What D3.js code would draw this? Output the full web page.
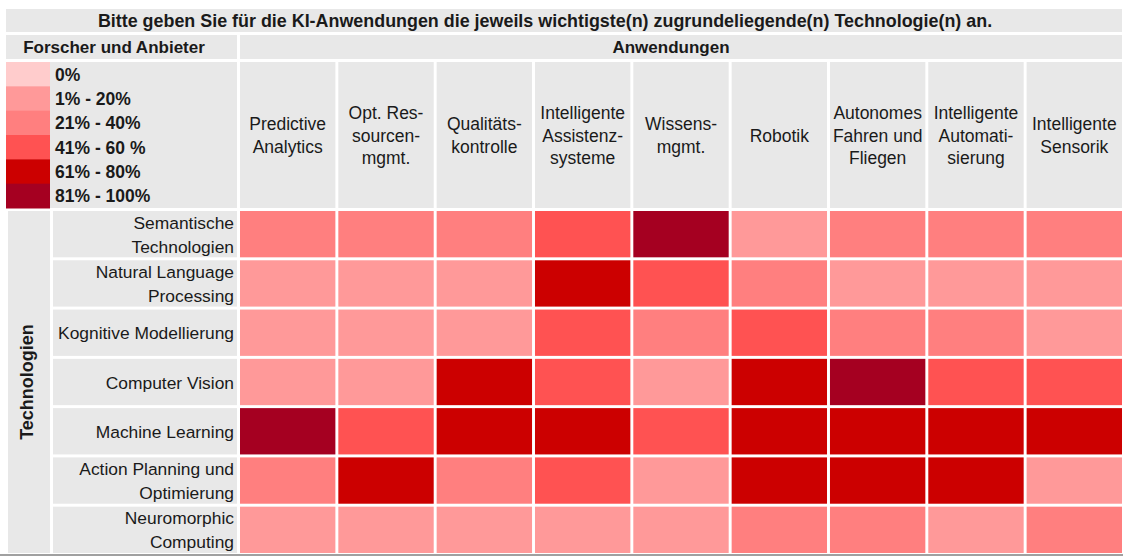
<!DOCTYPE html>
<html><head><meta charset="utf-8">
<script src="https://cdn.jsdelivr.net/npm/d3@7"></script>
<style>body{margin:0;background:#fff}svg{display:block;font-family:"Liberation Sans",Arial,sans-serif}</style>
</head><body><svg id="c" width="1123" height="556"></svg>
<script>
const title = "Bitte geben Sie für die KI-Anwendungen die jeweils wichtigste(n) zugrundeliegende(n) Technologie(n) an.";
const applications = [
  ["Predictive","Analytics"],
  ["Opt. Res-","sourcen-","mgmt."],
  ["Qualitäts-","kontrolle"],
  ["Intelligente","Assistenz-","systeme"],
  ["Wissens-","mgmt."],
  ["Robotik"],
  ["Autonomes","Fahren und","Fliegen"],
  ["Intelligente","Automati-","sierung"],
  ["Intelligente","Sensorik"]
];
const technologies = [
  ["Semantische","Technologien"],
  ["Natural Language","Processing"],
  ["Kognitive Modellierung"],
  ["Computer Vision"],
  ["Machine Learning"],
  ["Action Planning und","Optimierung"],
  ["Neuromorphic","Computing"]
];
const legendLabels = ["0%","1% - 20%","21% - 40%","41% - 60 %","61% - 80%","81% - 100%"];
const legendColors = ["#ffcccc","#ff9999","#ff7f7f","#ff5252","#cc0000","#a50021"];
// level index (0..5) per technology row, per application column
const levels = [
  [2,2,2,3,5,1,2,2,2],
  [1,1,1,4,3,2,1,1,1],
  [1,1,1,3,2,3,2,2,1],
  [1,1,4,3,1,4,5,3,3],
  [5,3,4,4,3,4,4,4,4],
  [2,4,2,3,1,4,4,4,1],
  [1,1,1,1,1,2,2,1,2]
];

const svg = d3.select("#c");
const gray = "#e8e8e8", ink = "#1a1a1a";
const color = d3.scaleOrdinal().domain(d3.range(6)).range(legendColors);
const x = d3.scaleBand().domain(d3.range(applications.length)).range([240,1122]).paddingInner(0.03);
const y = d3.scaleBand().domain(d3.range(technologies.length)).range([211,553]).paddingInner(0.06);

// title
svg.append("rect").attr("x",6).attr("y",9).attr("width",1116).attr("height",23).attr("fill",gray);
svg.append("text").attr("x",545).attr("y",27).attr("text-anchor","middle").attr("font-weight","bold").attr("font-size",17.9).attr("fill",ink).text(title);
// second row
svg.append("rect").attr("x",6).attr("y",35).attr("width",231).attr("height",24).attr("fill",gray);
svg.append("text").attr("x",114).attr("y",53).attr("text-anchor","middle").attr("font-weight","bold").attr("font-size",17).attr("fill",ink).text("Forscher und Anbieter");
svg.append("rect").attr("x",240).attr("y",35).attr("width",882).attr("height",24).attr("fill",gray);
svg.append("text").attr("x",671).attr("y",53).attr("text-anchor","middle").attr("font-weight","bold").attr("font-size",17).attr("fill",ink).text("Anwendungen");

// legend panel
svg.append("rect").attr("x",6).attr("y",62).attr("width",231).attr("height",146).attr("fill",gray);
const ly = d3.scaleBand().domain(d3.range(6)).range([62,208]);
const lg = svg.append("g");
lg.selectAll("rect").data(legendLabels).join("rect")
  .attr("x",6).attr("y",(d,i)=>ly(i)).attr("width",44).attr("height",ly.bandwidth()+0.5).attr("fill",(d,i)=>color(i));
lg.selectAll("text").data(legendLabels).join("text")
  .attr("x",55).attr("y",(d,i)=>ly(i)+ly.bandwidth()/2+6.5).attr("font-weight","bold").attr("font-size",17.5).attr("fill",ink).text(d=>d);

// column headers
const hg = svg.append("g");
applications.forEach((lines,i)=>{
  hg.append("rect").attr("x",x(i)).attr("y",62).attr("width",x.bandwidth()).attr("height",146).attr("fill",gray);
  const t = hg.append("text").attr("text-anchor","middle").attr("font-size",17.5).attr("fill",ink);
  const lh = 22.5, cy = 135 - (lines.length-1)*lh/2;
  lines.forEach((l,k)=>t.append("tspan").attr("x",x(i)+x.bandwidth()/2).attr("y",cy+k*lh+6.5).text(l));
});

// Technologien vertical label
svg.append("rect").attr("x",8).attr("y",211).attr("width",42).attr("height",342).attr("fill",gray);
svg.append("text").attr("transform","translate(33,382) rotate(-90)").attr("text-anchor","middle").attr("font-weight","bold").attr("font-size",18).attr("fill",ink).text("Technologien");

// row labels
const rg = svg.append("g");
technologies.forEach((lines,j)=>{
  rg.append("rect").attr("x",53).attr("y",y(j)).attr("width",184).attr("height",y.bandwidth()).attr("fill",gray);
  const t = rg.append("text").attr("text-anchor","end").attr("font-size",17.4).attr("fill",ink);
  const lh = 24, cy = y(j)+y.bandwidth()/2 - (lines.length-1)*lh/2;
  lines.forEach((l,k)=>t.append("tspan").attr("x",234).attr("y",cy+k*lh+6.5).text(l));
});

// cells
const cells = [];
levels.forEach((row,j)=>row.forEach((v,i)=>cells.push({i,j,v})));
svg.append("g").selectAll("rect").data(cells).join("rect")
  .attr("x",d=>x(d.i)).attr("y",d=>y(d.j)).attr("width",x.bandwidth()).attr("height",y.bandwidth())
  .attr("fill",d=>color(d.v));

// bottom edge line
svg.append("line").attr("x1",0).attr("x2",1123).attr("y1",555).attr("y2",555).attr("stroke","#a0a0a0").attr("stroke-width",2);
</script></body></html>
